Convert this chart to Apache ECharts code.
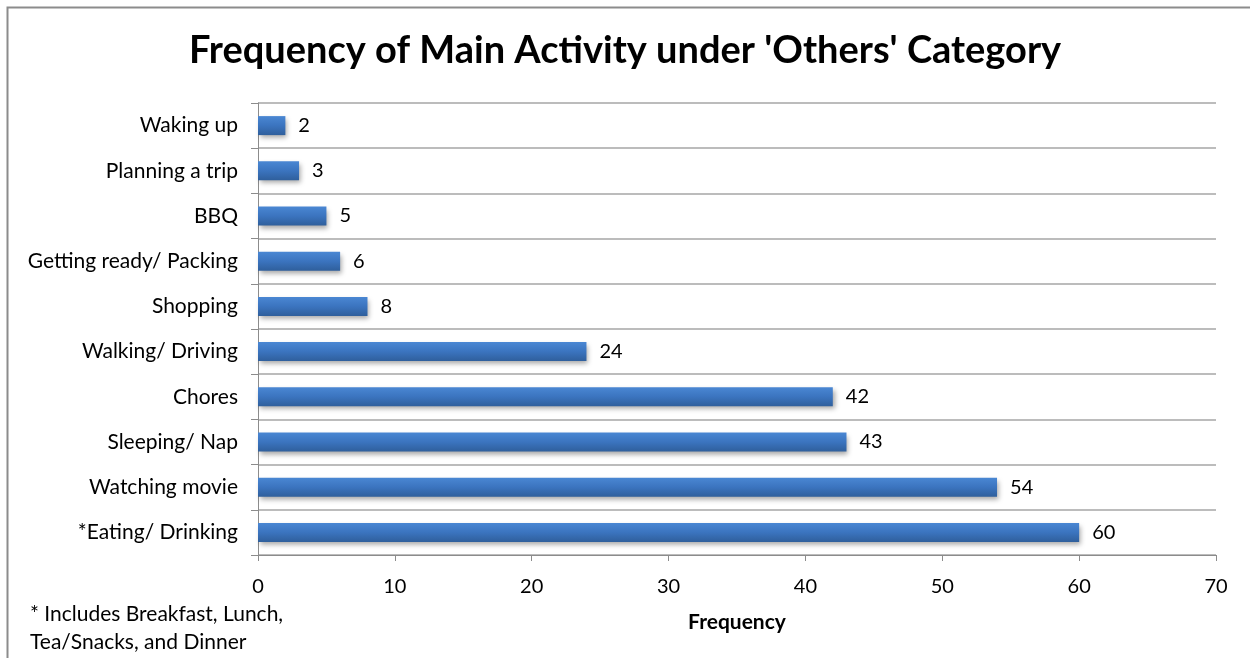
<!DOCTYPE html>
<html>
<head>
<meta charset="utf-8">
<script src="https://cdn.jsdelivr.net/npm/echarts@6/dist/echarts.min.js"></script>
<style>
  html, body { margin: 0; padding: 0; background: #fff; }
  #chart { width: 1250px; height: 658px; }
</style>
</head>
<body>
<div id="chart"></div>
<script>
// Activities, listed bottom-to-top as the category axis draws them
const activities = [
  '*Eating/ Drinking', 'Watching movie', 'Sleeping/ Nap', 'Chores',
  'Walking/ Driving', 'Shopping', 'Getting ready/ Packing', 'BBQ',
  'Planning a trip', 'Waking up'
];
const frequencies = [60, 54, 43, 42, 24, 8, 6, 5, 3, 2];
const xTicks = [0, 10, 20, 30, 40, 50, 60, 70];

const FONT = 'Lato, "Open Sans", sans-serif';

const chart = echarts.init(document.getElementById('chart'), null, { renderer: 'canvas' });

chart.setOption({
  animation: false,
  backgroundColor: '#ffffff',
  title: {
    text: "Frequency of Main Activity under 'Others' Category",
    left: 'center',
    top: 27,
    textStyle: { fontFamily: FONT, fontWeight: 'bold', fontSize: 38, color: '#000' }
  },
  graphic: [
    {
      type: 'rect',
      shape: { x: 7.5, y: 7.5, width: 1260, height: 670 },
      style: { fill: 'none', stroke: '#8c8c8c', lineWidth: 2 },
      silent: true
    },
    {
      type: 'text',
      left: 30,
      top: 600,
      style: {
        text: '* Includes Breakfast, Lunch,\nTea/Snacks, and Dinner',
        fontFamily: FONT, fontSize: 21, lineHeight: 28, fill: '#000'
      }
    }
  ],
  grid: { left: 258, right: 34, top: 103, bottom: 103, containLabel: false },
  xAxis: {
    type: 'value',
    min: xTicks[0],
    max: xTicks[xTicks.length - 1],
    interval: 10,
    name: 'Frequency',
    nameLocation: 'middle',
    nameGap: 57,
    nameTextStyle: { fontFamily: FONT, fontWeight: 'bold', fontSize: 21, color: '#000' },
    axisLine: { show: true, lineStyle: { color: '#8c8c8c', width: 1 } },
    axisTick: { show: true, length: 6, inside: false, lineStyle: { color: '#8c8c8c' } },
    axisLabel: { fontFamily: FONT, fontSize: 20, color: '#000', margin: 22 },
    splitLine: { show: false }
  },
  yAxis: {
    type: 'category',
    data: activities,
    axisLine: { show: true, lineStyle: { color: '#8c8c8c', width: 1 } },
    axisTick: { show: true, length: 7, inside: false, lineStyle: { color: '#8c8c8c' } },
    axisLabel: { fontFamily: FONT, fontSize: 21, color: '#000', margin: 20 },
    splitLine: { show: true, lineStyle: { color: '#a6a6a6', width: 1.5 } }
  },
  series: [{
    type: 'bar',
    data: frequencies,
    barWidth: 19,
    itemStyle: {
      color: new echarts.graphic.LinearGradient(0, 0, 0, 1, [
        { offset: 0, color: '#4a87d3' },
        { offset: 0.5, color: '#3b74bf' },
        { offset: 1, color: '#2f5f9c' }
      ]),
      shadowColor: 'rgba(0,0,0,0.35)',
      shadowBlur: 5,
      shadowOffsetX: 2,
      shadowOffsetY: 3
    },
    label: {
      show: true,
      position: 'right',
      distance: 13,
      fontFamily: FONT,
      fontSize: 20,
      color: '#000'
    }
  }]
});
</script>
</body>
</html>
